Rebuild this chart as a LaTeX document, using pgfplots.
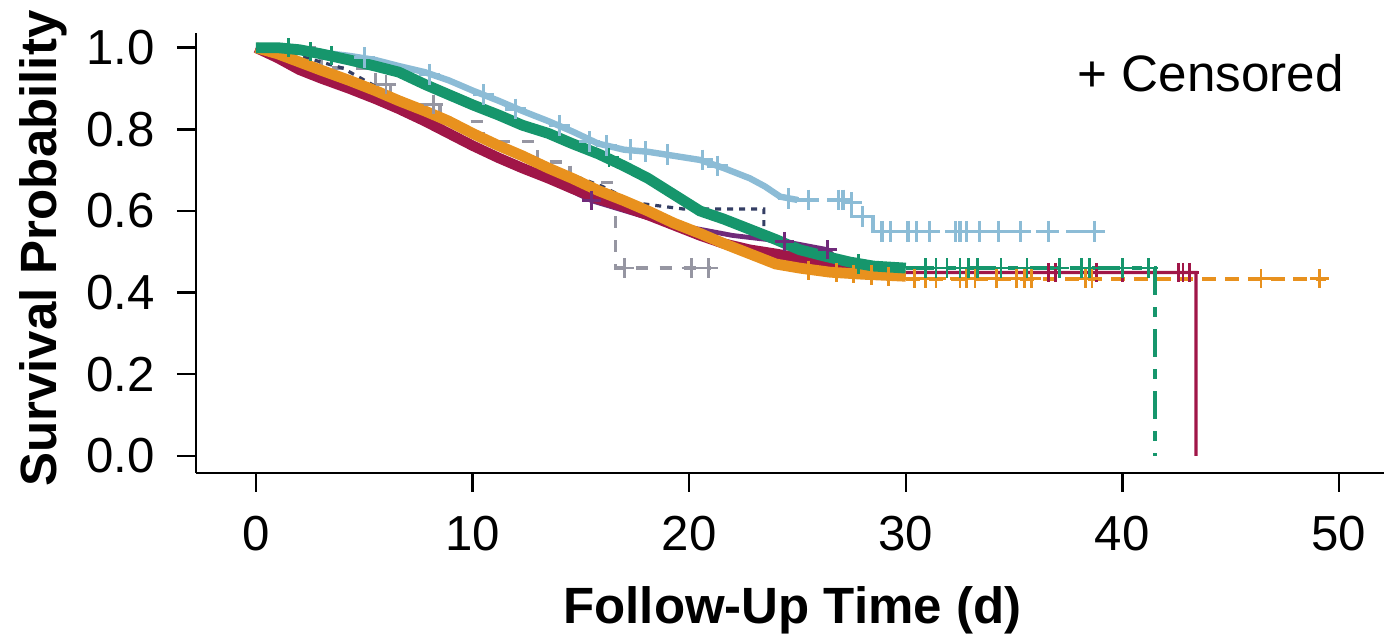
\documentclass[border=0pt]{standalone}
\usepackage{pgfplots}
\pgfplotsset{compat=1.18}
\usepackage{fontspec}
\setmainfont{Liberation Sans}
\definecolor{cCrim}{RGB}{160,22,72}
\definecolor{cOra}{RGB}{232,145,30}
\definecolor{cGrn}{RGB}{22,150,108}
\definecolor{cLbl}{RGB}{140,188,214}
\definecolor{cPur}{RGB}{112,42,122}
\definecolor{cNav}{RGB}{52,62,100}
\definecolor{cGry}{RGB}{150,150,162}
\begin{document}
\begin{tikzpicture}
\begin{axis}[name=ax, at={(0,0)}, anchor=south west,
  scale only axis, width=297pt, height=110pt,
  xmin=-2.77, xmax=52.08, ymin=-0.042, ymax=1.036,
  axis lines=left, axis line style={-, line width=0.6pt},
  tick align=outside, major tick length=4.75pt,
  tick style={line width=0.6pt, black},
  xtick={0,10,20,30,40,50}, ytick={0,0.2,0.4,0.6,0.8,1.0},
  /pgf/number format/assume math mode=true,
  ticklabel style={font=\fontsize{12.3}{14}\selectfont},
  xticklabel style={yshift=-2.5pt},
  yticklabel style={xshift=-2pt, /pgf/number format/.cd, fixed, fixed zerofill, precision=1},
  xlabel={Follow-Up Time (d)}, ylabel={Survival Probability},
  label style={font=\fontsize{12.75}{15}\selectfont\bfseries},
  xlabel style={at={(axis description cs:0.502,-0.343)}, anchor=base},
  ylabel style={at={(axis description cs:-0.117,0.51)}, anchor=base},
  clip=false,
]
% gray dashed
\addplot[cGry, line width=0.8pt, dash pattern=on 3pt off 3pt] coordinates {
(0,1)(3,1)(3,0.95)(5.5,0.95)(5.5,0.91)(6.2,0.91)(6.2,0.86)(8.5,0.86)(8.5,0.82)(10.5,0.82)(10.5,0.77)(13,0.77)(13,0.72)(14.5,0.72)(14.5,0.67)(16.6,0.67)(16.6,0.46)(21.0,0.46)};
\addplot[cGry, only marks, mark=+, mark size=2.4pt, line width=0.7pt, solid] coordinates {(6.0,0.91)(8.2,0.86)(17.0,0.46)(20.1,0.46)(20.9,0.46)};
% navy dotted
\addplot[cNav, line width=0.8pt, dash pattern=on 1.5pt off 1.5pt] coordinates {
(0,1.0)(2,0.98)(4,0.95)(5.7,0.90)(7.7,0.84)(10,0.79)(12,0.74)(14,0.70)(16,0.66)(17.5,0.62)(19.7,0.605)(23.45,0.605)(23.45,0.53)(25,0.51)(26,0.48)};
% purple solid
\addplot[cPur, line width=1.2pt] coordinates {
(0,1)(3,0.94)(6,0.87)(9,0.79)(12,0.715)(15.5,0.625)(18,0.585)(20,0.56)(22,0.54)(24.4,0.525)(26.4,0.505)(27,0.47)};
\addplot[cPur, only marks, mark=+, mark size=2.4pt, line width=0.7pt] coordinates {(15.5,0.625)(24.4,0.525)(26.4,0.505)};
% light blue
\addplot[cLbl, line width=1.6pt] coordinates {
(0,1.0)(2,0.995)(4.3,0.98)(5.5,0.97)(6.6,0.955)(7.8,0.94)(8.9,0.92)(10,0.895)(11.2,0.87)(12.3,0.845)(13.5,0.82)(14.6,0.795)(15.8,0.765)(17,0.75)(18.1,0.745)(19.3,0.735)(20.5,0.725)(21.6,0.705)(22.8,0.68)(23.5,0.66)(24.2,0.635)(25,0.627)};
\addplot[cLbl, line width=0.9pt, dash pattern=on 5pt off 2.5pt] coordinates {
(25,0.627)(27.5,0.627)(27.5,0.586)(28.5,0.586)(28.5,0.55)(38.8,0.55)};
\addplot[cLbl, only marks, mark=+, mark size=2.6pt, line width=0.8pt] coordinates {
(5,0.975)(8,0.935)(10.5,0.885)(12,0.85)(14,0.81)(15.4,0.77)(16.2,0.76)(17.3,0.75)(18,0.745)(19,0.738)(20.6,0.725)(21.3,0.71)(24.6,0.63)(25.5,0.627)(26.9,0.627)(27.1,0.627)(27.5,0.62)(28.0,0.586)
(28.9,0.55)(29.3,0.55)(30.1,0.55)(30.5,0.55)(31.1,0.55)(32.3,0.55)(32.5,0.55)(32.8,0.55)(33.4,0.55)(34.3,0.55)(35.3,0.55)(36.6,0.55)(38.7,0.55)};
% crimson
\addplot[cCrim, line width=2.6pt] coordinates {
(0,1.0)(1,0.975)(2,0.946)(3,0.925)(4.3,0.90)(5.5,0.875)(6.6,0.85)(7.8,0.82)(8.9,0.79)(10,0.76)(11.2,0.73)(12.3,0.705)(13.5,0.68)(14.6,0.655)(15.8,0.63)(17,0.61)(18.1,0.59)(19.3,0.565)(20.5,0.54)(21.6,0.52)(22.8,0.505)(24,0.495)(25.1,0.485)(26.2,0.475)(27.4,0.465)(28.5,0.455)};
\addplot[cCrim, line width=0.8pt] coordinates {
(28.5,0.455)(29,0.449)(43.4,0.449)(43.4,0)};
\addplot[cCrim, only marks, mark=+, mark size=2.4pt, line width=0.7pt] coordinates {
(36.6,0.449)(36.9,0.449)(38.8,0.449)(40.0,0.449)(42.6,0.449)(42.8,0.449)(43.1,0.449)};
% orange
\addplot[cOra, line width=2.7pt] coordinates {
(0,1.0)(1,0.985)(2,0.965)(3,0.945)(4.3,0.92)(5.5,0.895)(6.6,0.87)(7.8,0.845)(8.9,0.82)(10,0.79)(11.2,0.76)(12.3,0.735)(13.5,0.705)(14.6,0.68)(15.8,0.65)(17,0.625)(18.1,0.60)(19.3,0.57)(20.5,0.545)(21.6,0.52)(22.8,0.495)(24,0.47)(25.1,0.46)(26.5,0.45)(28,0.445)(30,0.44)};
\addplot[cOra, line width=1.0pt, dash pattern=on 3.5pt off 2.2pt] coordinates {
(30,0.434)(49.4,0.434)};
\addplot[cOra, only marks, mark=+, mark size=2.4pt, line width=0.7pt] coordinates {
(25.5,0.455)(26.8,0.45)(27.6,0.447)(28.4,0.443)(29.2,0.44)
(30.4,0.434)(30.9,0.434)(31.4,0.434)(32.5,0.434)(32.8,0.434)(33.2,0.434)(34.2,0.434)(35.1,0.434)(35.5,0.434)(35.8,0.434)(38.3,0.434)(38.6,0.434)(46.4,0.434)(49.1,0.434)};
% green
\addplot[cGrn, line width=2.7pt] coordinates {
(0,1.0)(1,1.0)(2,0.995)(3,0.985)(4.3,0.97)(5.5,0.955)(6.6,0.94)(7.8,0.91)(8.9,0.885)(10,0.86)(11.2,0.835)(12.3,0.81)(13.5,0.79)(14.6,0.765)(15.8,0.74)(17,0.71)(18.1,0.68)(19.3,0.64)(20.5,0.60)(21.6,0.58)(22.8,0.555)(24,0.53)(25.1,0.505)(26.2,0.49)(27.4,0.475)(28.5,0.465)(30,0.46)};
\addplot[cGrn, line width=1.1pt, dash pattern=on 7pt off 3pt on 2.5pt off 3pt] coordinates {
(30,0.46)(41.5,0.46)(41.5,0)};
\addplot[cGrn, only marks, mark=+, mark size=2.4pt, line width=0.7pt] coordinates {
(1.5,1.0)(2.5,0.99)(3.5,0.98)(16.3,0.73)(27.8,0.47)
(30.9,0.46)(31.4,0.46)(31.9,0.46)(32.5,0.46)(32.9,0.46)(33.3,0.46)(34.4,0.46)(35.6,0.46)(37.1,0.46)(38.1,0.46)(38.5,0.46)(40.0,0.46)(41.2,0.46)};
\node[anchor=base west, inner sep=0pt, font=\fontsize{12.8}{15}\selectfont] at (axis cs:37.9,0.892) {+ Censored};
\end{axis}
\pgfresetboundingbox
\path[use as bounding box] (ax.south west) ++(-49pt,-42pt) rectangle ++(346pt,160.25pt);
\end{tikzpicture}
\end{document}
